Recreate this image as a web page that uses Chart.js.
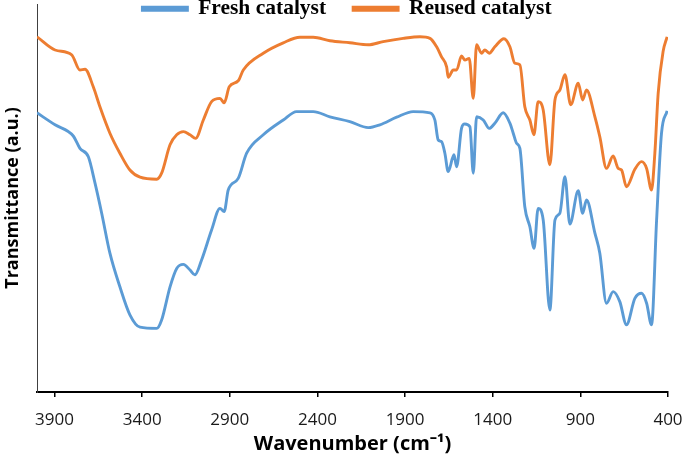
<!DOCTYPE html>
<html>
<head>
<meta charset="utf-8">
<title>FTIR spectra</title>
<script src="https://cdn.jsdelivr.net/npm/chart.js@4.4.1/dist/chart.umd.min.js"></script>
<style>
  html, body { margin: 0; padding: 0; background: #fff; }
  #wrap { width: 685px; height: 464px; }
</style>
</head>
<body>
<div id="wrap"><canvas id="ftir"></canvas></div>
<script>
// FTIR spectra values (transmittance in arbitrary units)
const seriesNames = ['Fresh catalyst', 'Reused catalyst'];
const seriesColors = ['#5B9BD5', '#ED7D31'];

const freshWavenumbers = [4000, 3897, 3793, 3755, 3707, 3669, 3631, 3584, 3527, 3470, 3412, 3317, 3289, 3241, 3203, 3165, 3127, 3099, 3061, 3004, 2956, 2932, 2909, 2852, 2804, 2709, 2595, 2519, 2424, 2329, 2215, 2110, 2044, 1948, 1854, 1758, 1730, 1711, 1692, 1673, 1654, 1621, 1606, 1578, 1559, 1530, 1511, 1492, 1454, 1420, 1388, 1340, 1302, 1283, 1264, 1245, 1217, 1188, 1164, 1141, 1112, 1074, 1045, 1017, 988, 960, 912, 887, 865, 817, 789, 751, 713, 675, 637, 589, 551, 522, 494, 465, 437, 405];
const freshValues = [69.8, 66.8, 64, 60.9, 58.8, 52.2, 44.7, 34.7, 26.3, 19.3, 16.2, 15.9, 18, 26.3, 30.9, 31.9, 30.5, 29.3, 33, 40.5, 45.9, 45.1, 50.5, 53.4, 59.7, 64.3, 68, 70.1, 70.1, 68.8, 67.6, 66.1, 66.8, 68.7, 70.1, 69.8, 68, 63, 62.6, 59.7, 55.1, 59.3, 56.3, 65.9, 67, 66.3, 54.7, 68.8, 68, 65.9, 67.2, 69.8, 67.2, 64.7, 62.2, 60.9, 46.3, 41.3, 35.9, 45.9, 43, 20.5, 43, 44.7, 53.8, 42, 50.3, 44.7, 48, 39.7, 34.7, 22.2, 25.1, 22.6, 16.8, 23.4, 24.7, 22.2, 16.8, 43, 64.7, 70.3];

const reusedWavenumbers = [4000, 3897, 3802, 3755, 3726, 3679, 3641, 3584, 3527, 3470, 3412, 3317, 3289, 3241, 3203, 3165, 3127, 3095, 3051, 3004, 2956, 2932, 2903, 2852, 2823, 2709, 2595, 2500, 2424, 2329, 2215, 2110, 2025, 1911, 1815, 1758, 1720, 1692, 1663, 1654, 1625, 1606, 1578, 1559, 1534, 1511, 1492, 1464, 1445, 1420, 1388, 1336, 1302, 1274, 1245, 1217, 1188, 1165, 1141, 1112, 1074, 1045, 1017, 988, 955, 912, 887, 865, 817, 789, 751, 713, 684, 665, 637, 589, 551, 522, 494, 475, 456, 428, 405];
const reusedValues = [88.8, 85.5, 84.3, 80.5, 80.7, 76.3, 71.3, 64.7, 59.7, 55.5, 53.7, 53.2, 54.7, 61.8, 64.3, 65.1, 64.3, 63.4, 68, 72.6, 73.4, 72.3, 76.3, 77.8, 80.5, 84.7, 87.3, 88.7, 88.7, 87.8, 87.3, 86.8, 87.6, 88.4, 88.8, 88.4, 86.3, 83.8, 81.3, 78.7, 80.5, 80.5, 84, 83, 83.4, 73.4, 86.8, 84.7, 85.5, 84.7, 86.3, 88.3, 86.3, 82.2, 81.8, 71.3, 68, 64.3, 72.6, 70.5, 56.8, 73, 75.5, 79.3, 71.8, 77.2, 73, 75.5, 68.8, 63.8, 55.9, 59, 55.9, 55.5, 51.3, 55.7, 57.6, 55.9, 50.5, 59.7, 74.7, 85.1, 88.8];

const xTicks = [3900, 3400, 2900, 2400, 1900, 1400, 900, 400];

function toPoints(xs, ys) {
    return xs.map((x, i) => ({ x: x, y: ys[i] }));
}

// legend sits on top of the plot, like the original figure
const legendOverlay = {
    id: 'legendOverlay',
    beforeLayout(chart) {
        const lg = chart.legend;
        if (lg && !lg._patched) {
            const fit = lg.fit;
            lg.fit = function () {
                fit.call(this);
                this.height = 0;
            };
            lg._patched = true;
        }
    },
    afterLayout(chart) {
        // the legend clips to its own box, so give it room again
        const lg = chart.legend;
        lg.top = -29;
        lg.bottom = 30;
        lg.left = 4.5;
        lg.right = chart.width + 4.5;
    }
};

const ctx = document.getElementById('ftir').getContext('2d');
new Chart(ctx, {
    type: 'line',
    data: {
        datasets: [
            {
                label: seriesNames[0],
                data: toPoints(freshWavenumbers, freshValues),
                borderColor: seriesColors[0],
                backgroundColor: seriesColors[0],
                borderWidth: 2.9,
                pointRadius: 0,
                cubicInterpolationMode: 'monotone'
            },
            {
                label: seriesNames[1],
                data: toPoints(reusedWavenumbers, reusedValues),
                borderColor: seriesColors[1],
                backgroundColor: seriesColors[1],
                borderWidth: 2.9,
                pointRadius: 0,
                cubicInterpolationMode: 'monotone'
            }
        ]
    },
    options: {
        responsive: true,
        maintainAspectRatio: false,
        animation: false,
        layout: {
            padding: { top: 4, right: 17, bottom: 0, left: 0 }
        },
        plugins: {
            tooltip: { enabled: false },
            legend: {
                position: 'top',
                labels: {
                    boxWidth: 45,
                    boxHeight: 3,
                    padding: 27,
                    color: '#000',
                    font: { family: '"Liberation Serif", "Times New Roman", serif', size: 21.5, weight: 'bold' }
                }
            }
        },
        scales: {
            x: {
                type: 'linear',
                reverse: true,
                min: 400,
                max: 4000,
                afterBuildTicks(scale) {
                    scale.ticks = xTicks.map(v => ({ value: v }));
                },
                afterFit(scale) {
                    scale.height = 72;
                    scale.paddingLeft = 0;
                    scale.paddingRight = 0;
                },
                ticks: {
                    autoSkip: false,
                    maxRotation: 0,
                    padding: 13,
                    color: '#1a1a1a',
                    font: { family: '"Open Sans", sans-serif', size: 17 },
                    callback: v => String(v)
                },
                grid: {
                    display: true,
                    drawOnChartArea: false,
                    drawTicks: true,
                    tickLength: 5,
                    color: '#000',
                    lineWidth: 1.5
                },
                border: { display: true, color: '#000', width: 2 },
                title: {
                    display: true,
                    text: 'Wavenumber (cm⁻¹)',
                    color: '#000',
                    padding: { top: 0, bottom: 8 },
                    font: { family: '"Open Sans", sans-serif', size: 20, weight: 'bold' }
                }
            },
            y: {
                min: 0,
                max: 97,
                afterFit(scale) {
                    scale.width = 37;
                },
                ticks: { display: false },
                grid: { display: false },
                border: { display: true, color: '#404040', width: 1 },
                title: {
                    display: true,
                    text: 'Transmittance (a.u.)',
                    color: '#000',
                    padding: { top: 2, bottom: 0 },
                    font: { family: '"Open Sans", sans-serif', size: 18, weight: 'bold' }
                }
            }
        }
    },
    plugins: [legendOverlay]
});
</script>
</body>
</html>
